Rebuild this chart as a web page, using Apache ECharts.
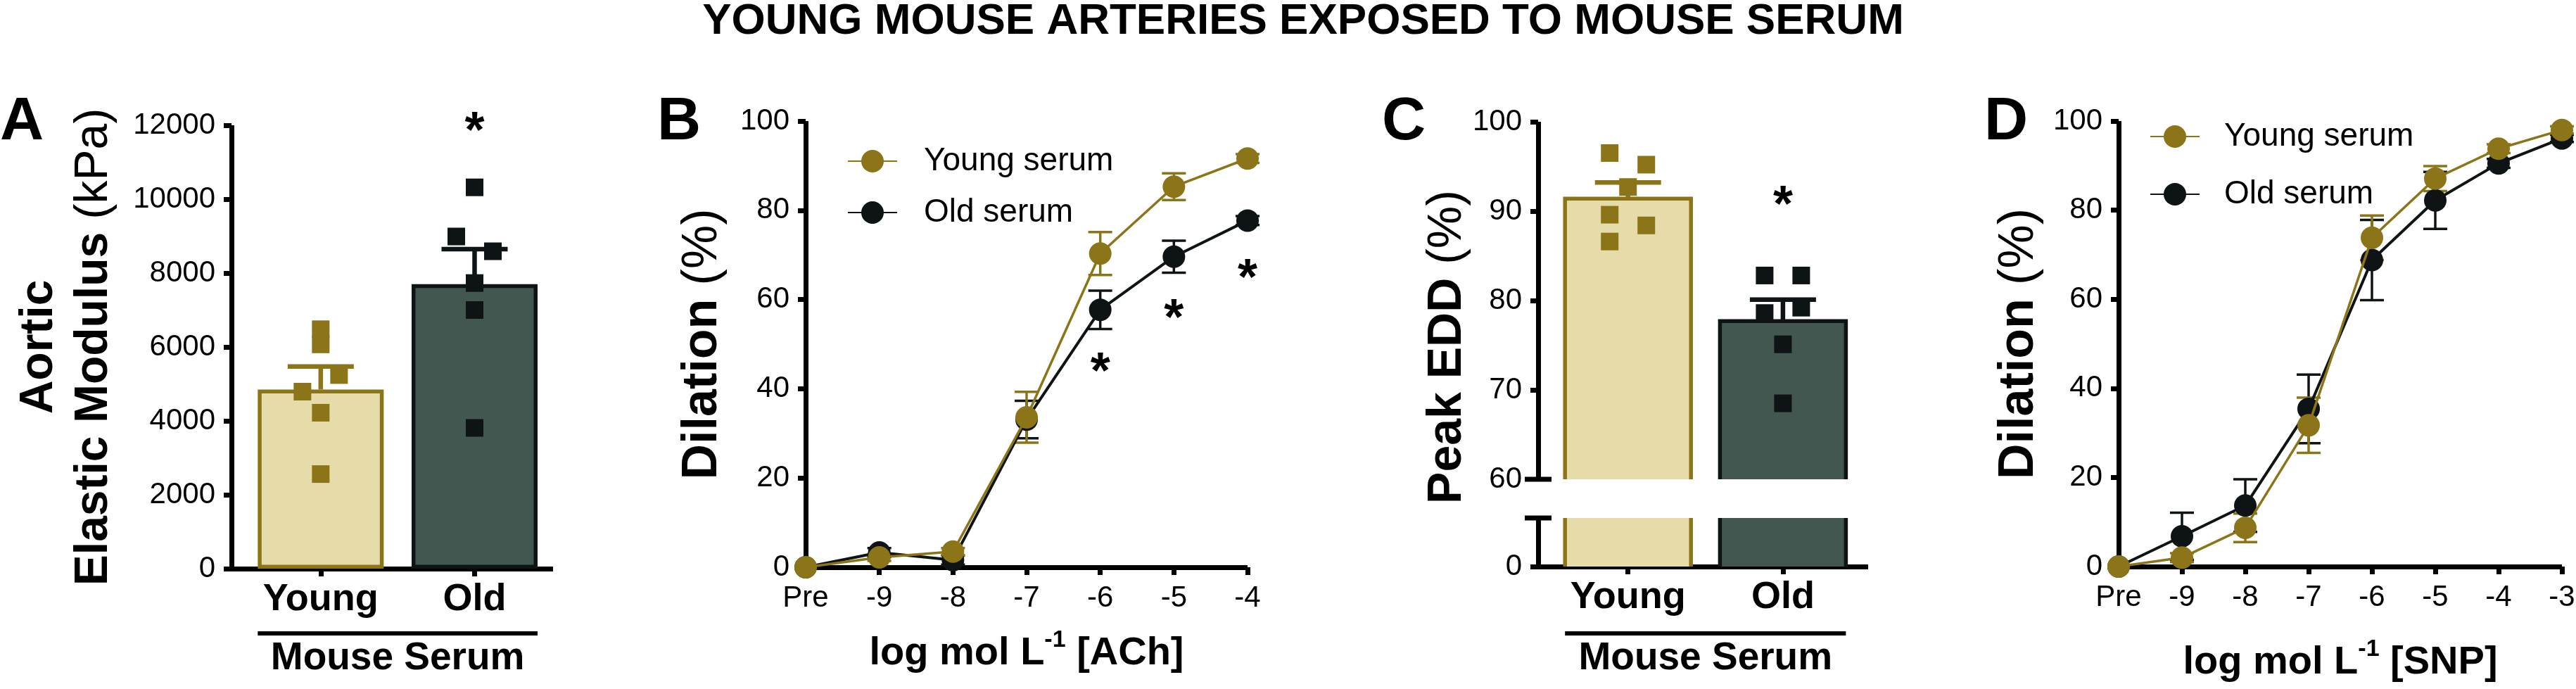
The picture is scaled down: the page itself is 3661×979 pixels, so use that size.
<!DOCTYPE html>
<html><head><meta charset="utf-8">
<script src="https://cdn.jsdelivr.net/npm/echarts@6/dist/echarts.min.js"></script>
<style>html,body{margin:0;padding:0;background:#fff}#c{width:3661px;height:979px}</style>
</head><body><div id="c"></div>
<script>
// ---------------- DATA ----------------
const chartTitle = 'YOUNG MOUSE ARTERIES EXPOSED TO MOUSE SERUM';
const groups = ['Young', 'Old'];
const groupAxisTitle = 'Mouse Serum';
const seriesNames = ['Young serum', 'Old serum'];

// Panel A: aortic elastic modulus (kPa)
const aMean = [4850, 7700];
const aSem = [620, 950];
const aYoungPts = [6480, 6070, 5240, 4790, 4220, 2560];
const aOldPts = [10320, 8990, 8590, 7730, 7000, 3810];
const aStar = [[2, 12100]];

// Panel B: ACh dose response (% dilation)
const bCats = ['Pre', '-9', '-8', '-7', '-6', '-5', '-4'];
const bYoung = [0, 2.2, 3.5, 33.6, 70.3, 85.3, 91.6];
const bYoungSem = [0, 0.8, 0.8, 5.7, 4.8, 3.0, 1.0];
const bOld = [0, 3.3, 1.6, 33.1, 57.7, 69.6, 77.7];
const bOldSem = [0, 1.0, 1.0, 4.2, 4.3, 3.6, 1.0];
const bStarCats = ['-6', '-5', '-4'];
const bStarY = [46, 58, 67];

// Panel C: peak EDD (%)
const cMean = [91.4, 77.7];
const cSem = [1.8, 2.4];
const cYoungPts = [96.5, 95.2, 92.7, 89.6, 88.4, 86.6];
const cOldPts = [82.8, 82.8, 78.6, 79.2, 75.1, 68.5];
const cStar = [[2, 91.8]];

// Panel D: SNP dose response (% dilation)
const dCats = ['Pre', '-9', '-8', '-7', '-6', '-5', '-4', '-3'];
const dYoung = [0, 2.0, 8.7, 31.7, 73.8, 87.1, 93.8, 98.0];
const dYoungSem = [0, 1.0, 3.2, 6.2, 5.0, 2.8, 1.0, 0.8];
const dOld = [0, 6.8, 13.7, 35.4, 68.8, 82.2, 90.5, 96.1];
const dOldSem = [0, 5.3, 5.9, 7.7, 9.0, 6.4, 1.0, 0.8];

// jitter pattern of the individual points (in marker steps, style only)
const aYoungJit = [0, 0, 1, -1, 0, 0];
const aOldJit = [0, -1, 1, 0, 0, 0];
const cYoungJit = [-1, 1, 0, -1, 1, -1];
const cOldJit = [-1, 1, -1, 1, 0, 0];

// ---------------- STYLE ----------------
const FONT = '"Liberation Sans", Arial, Helvetica, sans-serif';
const GOLD = '#8C7519', GOLD_LIGHT = '#E5DCAA', BLACK = '#0E1315', DARK_BAR = '#41574F';
const groupColor = [GOLD, BLACK];
const barFill = [GOLD_LIGHT, DARK_BAR];
const AXW = 7, TICK = 11, JIT = 26, BARW = 179, SQ = 25;

const chart = echarts.init(document.getElementById('c'), null, {renderer: 'canvas', width: 3661, height: 979});

const plainNum = v => String(v);
function axisBase(extra) {
  return Object.assign({
    axisLine: {show: true, onZero: false, lineStyle: {color: '#000', width: AXW, cap: 'butt'}},
    axisTick: {show: true, inside: false, length: TICK, lineStyle: {color: '#000', width: AXW}},
    axisLabel: {color: '#000', fontSize: 42, fontFamily: FONT, margin: 23, formatter: plainNum},
    splitLine: {show: false},
    nameMoveOverlap: false,
    silent: true
  }, extra);
}
const catLabel = {color: '#000', fontSize: 54, fontWeight: 'bold', fontFamily: FONT, margin: 17,
  customValues: [1, 2], formatter: v => groups[Math.round(v) - 1]};
const supName = (chem) => '{m|log mol L}{s|-1}{m| [' + chem + ']}';
const supRich = {
  m: {fontSize: 56, fontWeight: 'bold', fontFamily: FONT, lineHeight: 64, verticalAlign: 'bottom', color: '#000'},
  s: {fontSize: 34, fontWeight: 'bold', fontFamily: FONT, lineHeight: 34, verticalAlign: 'top', color: '#000'}
};
const yRich = (fs, lh) => ({
  b: {fontSize: fs, fontWeight: 'bold', fontFamily: FONT, lineHeight: lh, color: '#000'},
  n: {fontSize: fs, fontWeight: 'normal', fontFamily: FONT, lineHeight: lh, color: '#000'}
});

// custom renderers
function errRender(color, lw, capHalf, oneSided) {
  return function (params, api) {
    const x = api.value(0), m = api.value(1), s = api.value(2);
    if (!(s > 0)) return null;
    const t = api.coord([x, m + s]);
    const b = api.coord([x, oneSided ? m : m - s]);
    const st = {stroke: color, lineWidth: lw};
    const ch = [
      {type: 'line', shape: {x1: t[0], y1: t[1], x2: b[0], y2: b[1]}, style: st},
      {type: 'line', shape: {x1: t[0] - capHalf, y1: t[1], x2: t[0] + capHalf, y2: t[1]}, style: st}
    ];
    if (!oneSided) ch.push({type: 'line', shape: {x1: b[0] - capHalf, y1: b[1], x2: b[0] + capHalf, y2: b[1]}, style: st});
    return {type: 'group', children: ch};
  };
}
const STAR_FS = 72;
function starRender(params, api) {
  const p = api.coord([api.value(0), api.value(1)]);
  return {type: 'text', x: p[0], y: p[1] + 0.23 * STAR_FS,
    style: {text: '*', fill: '#000', font: 'bold ' + STAR_FS + 'px ' + FONT, align: 'center', verticalAlign: 'middle'}};
}
// broken-axis bars for panel C
function cUpperBar(params, api) {
  const x = api.value(0), v = api.value(1), i = Math.round(x) - 1;
  const top = api.coord([x, v]);
  const base = api.coord([x, 60]);
  const h = BARW / 2;
  return {type: 'group', children: [
    {type: 'rect', shape: {x: top[0] - h, y: top[1], width: BARW, height: base[1] - top[1]}, style: {fill: barFill[i]}},
    {type: 'polyline', shape: {points: [[top[0] - h, base[1]], [top[0] - h, top[1]], [top[0] + h, top[1]], [top[0] + h, base[1]]]},
      style: {stroke: groupColor[i], lineWidth: 5.5, fill: null}}
  ]};
}
function cLowerBar(params, api) {
  const x = api.value(0), i = Math.round(x) - 1;
  const b = api.coord([x, 0]);
  const t = api.coord([x, 10]);
  const h = BARW / 2;
  return {type: 'group', children: [
    {type: 'rect', shape: {x: b[0] - h, y: t[1], width: BARW, height: b[1] - t[1]}, style: {fill: barFill[i]}},
    {type: 'line', shape: {x1: b[0] - h, y1: t[1], x2: b[0] - h, y2: b[1]}, style: {stroke: groupColor[i], lineWidth: 5.5}},
    {type: 'line', shape: {x1: b[0] + h, y1: t[1], x2: b[0] + h, y2: b[1]}, style: {stroke: groupColor[i], lineWidth: 5.5}}
  ]};
}

const pts = (vals, jit, gi) => vals.map((v, k) => ({value: [gi, v], symbolOffset: [jit[k] * JIT, 0]}));

const option = {
  animation: false,
  backgroundColor: '#fff',
  textStyle: {fontFamily: FONT},
  grid: [
    {left: 329, top: 178, width: 457, height: 630},
    {left: 1145, top: 172, width: 628, height: 634},
    {left: 2186, top: 173, width: 469, height: 508},
    {left: 2186, top: 736, width: 469, height: 69},
    {left: 3011, top: 172, width: 630, height: 633}
  ].map(g => Object.assign(g, {containLabel: false, outerBoundsMode: 'none', show: false})),
  xAxis: [
    axisBase({gridIndex: 0, type: 'value', min: 0.42, max: 2.51,
      axisTick: {show: true, length: TICK, customValues: [1, 2], lineStyle: {color: '#000', width: AXW}},
      axisLabel: catLabel}),
    axisBase({gridIndex: 1, type: 'category', data: bCats, boundaryGap: false,
      axisTick: {show: true, length: TICK, interval: 0, lineStyle: {color: '#000', width: AXW}},
      axisLabel: {color: '#000', fontSize: 42, fontFamily: FONT, margin: 23, interval: 0},
      name: supName('ACh'), nameLocation: 'middle', nameGap: 87, nameTextStyle: {rich: supRich}}),
    axisBase({gridIndex: 2, type: 'value', min: 0.42, max: 2.55, show: false}),
    axisBase({gridIndex: 3, type: 'value', min: 0.42, max: 2.55,
      axisTick: {show: true, length: TICK, customValues: [1, 2], lineStyle: {color: '#000', width: AXW}},
      axisLabel: catLabel}),
    axisBase({gridIndex: 4, type: 'category', data: dCats, boundaryGap: false,
      axisTick: {show: true, length: TICK, interval: 0, lineStyle: {color: '#000', width: AXW}},
      axisLabel: {color: '#000', fontSize: 42, fontFamily: FONT, margin: 23, interval: 0},
      name: supName('SNP'), nameLocation: 'middle', nameGap: 101, nameTextStyle: {rich: supRich}})
  ],
  yAxis: [
    axisBase({gridIndex: 0, type: 'value', min: 0, max: 12000, interval: 2000,
      name: '{b|Aortic}\n{b|Elastic Modulus }{n|(kPa)}', nameLocation: 'middle', nameGap: 156,
      nameTextStyle: {rich: yRich(66, 78)}}),
    axisBase({gridIndex: 1, type: 'value', min: 0, max: 100, interval: 20,
      name: '{b|Dilation }{n|(%)}', nameLocation: 'middle', nameGap: 111, nameTextStyle: {rich: yRich(70, 70)}}),
    axisBase({gridIndex: 2, type: 'value', min: 60, max: 100, interval: 10,
      axisTick: {show: true, length: TICK, customValues: [70, 80, 90, 100], lineStyle: {color: '#000', width: AXW}}}),
    axisBase({gridIndex: 3, type: 'value', min: 0, max: 10,
      axisTick: {show: true, length: TICK, customValues: [0], lineStyle: {color: '#000', width: AXW}},
      axisLabel: {color: '#000', fontSize: 42, fontFamily: FONT, margin: 23, customValues: [0], formatter: plainNum}}),
    axisBase({gridIndex: 4, type: 'value', min: 0, max: 100, interval: 20,
      name: '{b|Dilation }{n|(%)}', nameLocation: 'middle', nameGap: 106, nameTextStyle: {rich: yRich(70, 70)}})
  ],
  legend: [
    {left: 1199, top: 201, orient: 'vertical', itemWidth: 70, itemHeight: 40, itemGap: 27, selectedMode: false,
      data: seriesNames, textStyle: {fontSize: 46, color: '#000', fontFamily: FONT, lineHeight: 40, padding: [0, 0, 0, 33]}},
    {left: 3050, top: 166, orient: 'vertical', itemWidth: 70, itemHeight: 40, itemGap: 36, selectedMode: false,
      data: seriesNames, textStyle: {fontSize: 46, color: '#000', fontFamily: FONT, lineHeight: 40, padding: [0, 0, 0, 30]}}
  ],
  series: [
    // ---- A ----
    {type: 'bar', xAxisIndex: 0, yAxisIndex: 0, barWidth: BARW, z: 1, silent: true,
      data: aMean.map((v, i) => ({value: [i + 1, v], itemStyle: {color: barFill[i], borderColor: groupColor[i], borderWidth: 5.5}}))},
    {type: 'custom', xAxisIndex: 0, yAxisIndex: 0, z: 3, silent: true, renderItem: errRender(GOLD, 6.5, 47, true), data: [[1, aMean[0], aSem[0]]]},
    {type: 'custom', xAxisIndex: 0, yAxisIndex: 0, z: 3, silent: true, renderItem: errRender(BLACK, 6.5, 47, true), data: [[2, aMean[1], aSem[1]]]},
    {type: 'scatter', xAxisIndex: 0, yAxisIndex: 0, symbol: 'rect', symbolSize: SQ, z: 2, silent: true, itemStyle: {color: GOLD, opacity: 1}, data: pts(aYoungPts, aYoungJit, 1)},
    {type: 'scatter', xAxisIndex: 0, yAxisIndex: 0, symbol: 'rect', symbolSize: SQ, z: 2, silent: true, itemStyle: {color: BLACK, opacity: 1}, data: pts(aOldPts, aOldJit, 2)},
    {type: 'custom', xAxisIndex: 0, yAxisIndex: 0, z: 4, silent: true, renderItem: starRender, data: aStar},
    // ---- B ----
    {type: 'custom', xAxisIndex: 1, yAxisIndex: 1, z: 1, silent: true, renderItem: errRender(BLACK, 3.5, 17, false), data: bOld.map((v, i) => [i, v, bOldSem[i]])},
    {type: 'custom', xAxisIndex: 1, yAxisIndex: 1, z: 1, silent: true, renderItem: errRender(GOLD, 3.5, 17, false), data: bYoung.map((v, i) => [i, v, bYoungSem[i]])},
    {name: seriesNames[1], type: 'line', xAxisIndex: 1, yAxisIndex: 1, z: 2, silent: true, symbol: 'circle', symbolSize: 32,
      itemStyle: {color: BLACK}, lineStyle: {color: BLACK, width: 4}, data: bOld},
    {name: seriesNames[0], type: 'line', xAxisIndex: 1, yAxisIndex: 1, z: 3, silent: true, symbol: 'circle', symbolSize: 32,
      itemStyle: {color: GOLD}, lineStyle: {color: GOLD, width: 3.5}, data: bYoung},
    {type: 'custom', xAxisIndex: 1, yAxisIndex: 1, z: 4, silent: true, renderItem: starRender, data: bStarCats.map((c, k) => [bCats.indexOf(c), bStarY[k]])},
    // ---- C ----
    {type: 'custom', xAxisIndex: 2, yAxisIndex: 2, z: 1, silent: true, renderItem: cUpperBar, data: cMean.map((v, i) => [i + 1, v])},
    {type: 'custom', xAxisIndex: 3, yAxisIndex: 3, z: 1, silent: true, renderItem: cLowerBar, data: cMean.map((v, i) => [i + 1, v])},
    {type: 'custom', xAxisIndex: 2, yAxisIndex: 2, z: 3, silent: true, renderItem: errRender(GOLD, 6.5, 47, true), data: [[1, cMean[0], cSem[0]]]},
    {type: 'custom', xAxisIndex: 2, yAxisIndex: 2, z: 3, silent: true, renderItem: errRender(BLACK, 6.5, 47, true), data: [[2, cMean[1], cSem[1]]]},
    {type: 'scatter', xAxisIndex: 2, yAxisIndex: 2, symbol: 'rect', symbolSize: SQ, z: 2, silent: true, itemStyle: {color: GOLD, opacity: 1}, data: pts(cYoungPts, cYoungJit, 1)},
    {type: 'scatter', xAxisIndex: 2, yAxisIndex: 2, symbol: 'rect', symbolSize: SQ, z: 2, silent: true, itemStyle: {color: BLACK, opacity: 1}, data: pts(cOldPts, cOldJit, 2)},
    {type: 'custom', xAxisIndex: 2, yAxisIndex: 2, z: 4, silent: true, renderItem: starRender, data: cStar},
    // ---- D ----
    {type: 'custom', xAxisIndex: 4, yAxisIndex: 4, z: 1, silent: true, renderItem: errRender(BLACK, 3.5, 17, false), data: dOld.map((v, i) => [i, v, dOldSem[i]])},
    {type: 'custom', xAxisIndex: 4, yAxisIndex: 4, z: 1, silent: true, renderItem: errRender(GOLD, 3.5, 17, false), data: dYoung.map((v, i) => [i, v, dYoungSem[i]])},
    {name: seriesNames[1], type: 'line', xAxisIndex: 4, yAxisIndex: 4, z: 2, silent: true, symbol: 'circle', symbolSize: 32,
      itemStyle: {color: BLACK}, lineStyle: {color: BLACK, width: 4}, data: dOld},
    {name: seriesNames[0], type: 'line', xAxisIndex: 4, yAxisIndex: 4, z: 3, silent: true, symbol: 'circle', symbolSize: 32,
      itemStyle: {color: GOLD}, lineStyle: {color: GOLD, width: 3.5}, data: dYoung}
  ]
};
chart.setOption(option);

// ---------- annotations positioned from the axes ----------
const gx = (axisIdx, v) => chart.convertToPixel({xAxisIndex: axisIdx}, v);
const gy = (axisIdx, v) => chart.convertToPixel({yAxisIndex: axisIdx}, v);
const graphics = [];
const txt = (text, x, y, size, weight, align, vAlign, extra) => Object.assign({type: 'text', silent: true, z: 10,
  style: {text, x: 0, y: 0, fill: '#000', font: weight + ' ' + size + 'px ' + FONT, align, verticalAlign: vAlign}, x, y}, extra || {});
graphics.push(txt(chartTitle, 1852, 0, 62, 'bold', 'center', 'top'));
[['A', 0], ['B', 934], ['C', 1964], ['D', 2820]].forEach(([l, x]) => graphics.push(txt(l, x, 131, 86, 'bold', 'left', 'top')));
// group brackets under A and C
[0, 3].forEach(xi => {
  const x1 = gx(xi, 1) - BARW / 2, x2 = gx(xi, 2) + BARW / 2;
  graphics.push({type: 'line', silent: true, shape: {x1, y1: 900, x2, y2: 900}, style: {stroke: '#000', lineWidth: 6}});
  graphics.push(txt(groupAxisTitle, (x1 + x2) / 2, 936, 55, 'bold', 'center', 'middle'));
});
// broken-axis caps for C
const cx = gx(3, 0.42);
[gy(2, 60), gy(3, 10)].forEach(y => graphics.push({type: 'line', silent: true, z: 10,
  shape: {x1: cx - 19, y1: y, x2: cx + 19, y2: y}, style: {stroke: '#000', lineWidth: AXW}}));
// C y-axis title
graphics.push({type: 'text', silent: true, z: 10, x: 2057, y: (gy(2, 100) + gy(3, 0)) / 2 + 4, rotation: Math.PI / 2,
  style: {text: '{b|Peak EDD }{n|(%)}', rich: yRich(68, 68), align: 'center', verticalAlign: 'middle', fill: '#000'}});
chart.setOption({graphic: graphics});
</script>
</body></html>
